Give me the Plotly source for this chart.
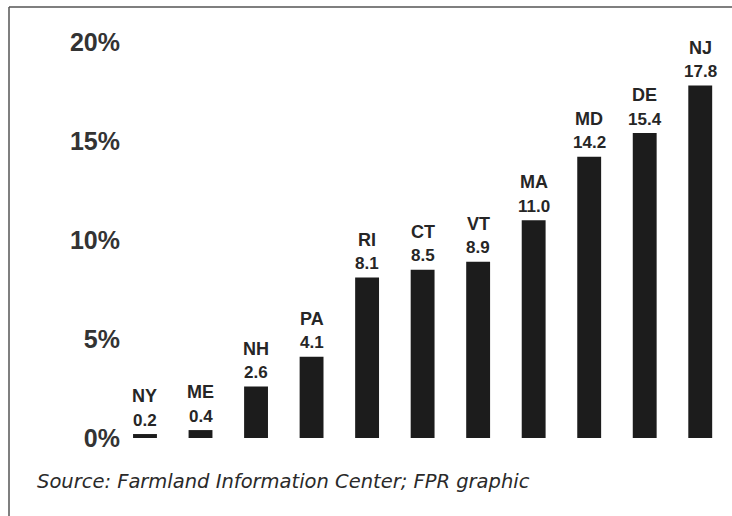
import plotly.graph_objects as go

states = ["NY", "ME", "NH", "PA", "RI", "CT", "VT", "MA", "MD", "DE", "NJ"]
values = [0.2, 0.4, 2.6, 4.1, 8.1, 8.5, 8.9, 11.0, 14.2, 15.4, 17.8]
tick_vals = [0, 5, 10, 15, 20]
tick_text = ["0%", "5%", "10%", "15%", "20%"]
source = "Source: Farmland Information Center; FPR graphic"

W, H = 732, 516
L, R, T, B = 125, 4, 42, 78
pw, ph = W - L - R, H - T - B

xs = list(range(len(states)))
fig = go.Figure(go.Bar(
    x=xs, y=values,
    marker=dict(color="#1c1c1c", line=dict(width=0)),
    width=0.43,
    hoverinfo="skip",
))

lab_font = dict(family="Liberation Sans, Arial", size=17, color="#262626", weight="bold")
for x, s, v in zip(xs, states, values):
    fig.add_annotation(x=x, y=v, text=f"{v:.1f}", showarrow=False,
                       yanchor="middle", yshift=14, font=lab_font)
    fig.add_annotation(x=x, y=v, text=s, showarrow=False,
                       yanchor="middle", yshift=38,
                       font=dict(lab_font, size=18))

fig.update_layout(
    width=W, height=H,
    margin=dict(l=L, r=R, t=T, b=B),
    paper_bgcolor="white", plot_bgcolor="white",
    showlegend=False,
    xaxis=dict(range=[-0.36, 10.5], showticklabels=False, showgrid=False,
               zeroline=False, showline=False, ticks=""),
    yaxis=dict(range=[0, 20], tickvals=tick_vals, ticktext=tick_text,
               showgrid=False, zeroline=False, showline=False, ticks="",
               ticklabelstandoff=4,
               tickfont=dict(family="Liberation Sans, Arial", size=25, color="#333333", weight="bold")),
)

# frame (left and top edges of the scanned box)
x_left = (9 - L) / pw
y_top = (H - B - 7) / ph
fig.add_shape(type="line", xref="paper", yref="paper",
              x0=x_left, x1=x_left, y0=y_top, y1=-0.3,
              line=dict(color="#555555", width=1.5))
fig.add_shape(type="line", xref="paper", yref="paper",
              x0=x_left, x1=1.1, y0=y_top, y1=y_top,
              line=dict(color="#555555", width=1.5))

fig.add_annotation(text=source, xref="paper", yref="paper",
                   x=(35 - L) / pw, y=(H - B - 481) / ph,
                   xanchor="left", yanchor="middle", showarrow=False,
                   font=dict(family="DejaVu Sans, Verdana", size=19.5, color="#2a2a2a", style="italic"))

fig.write_html("out.html", config={"displayModeBar": False},
               post_script="document.body.style.margin='0';")
